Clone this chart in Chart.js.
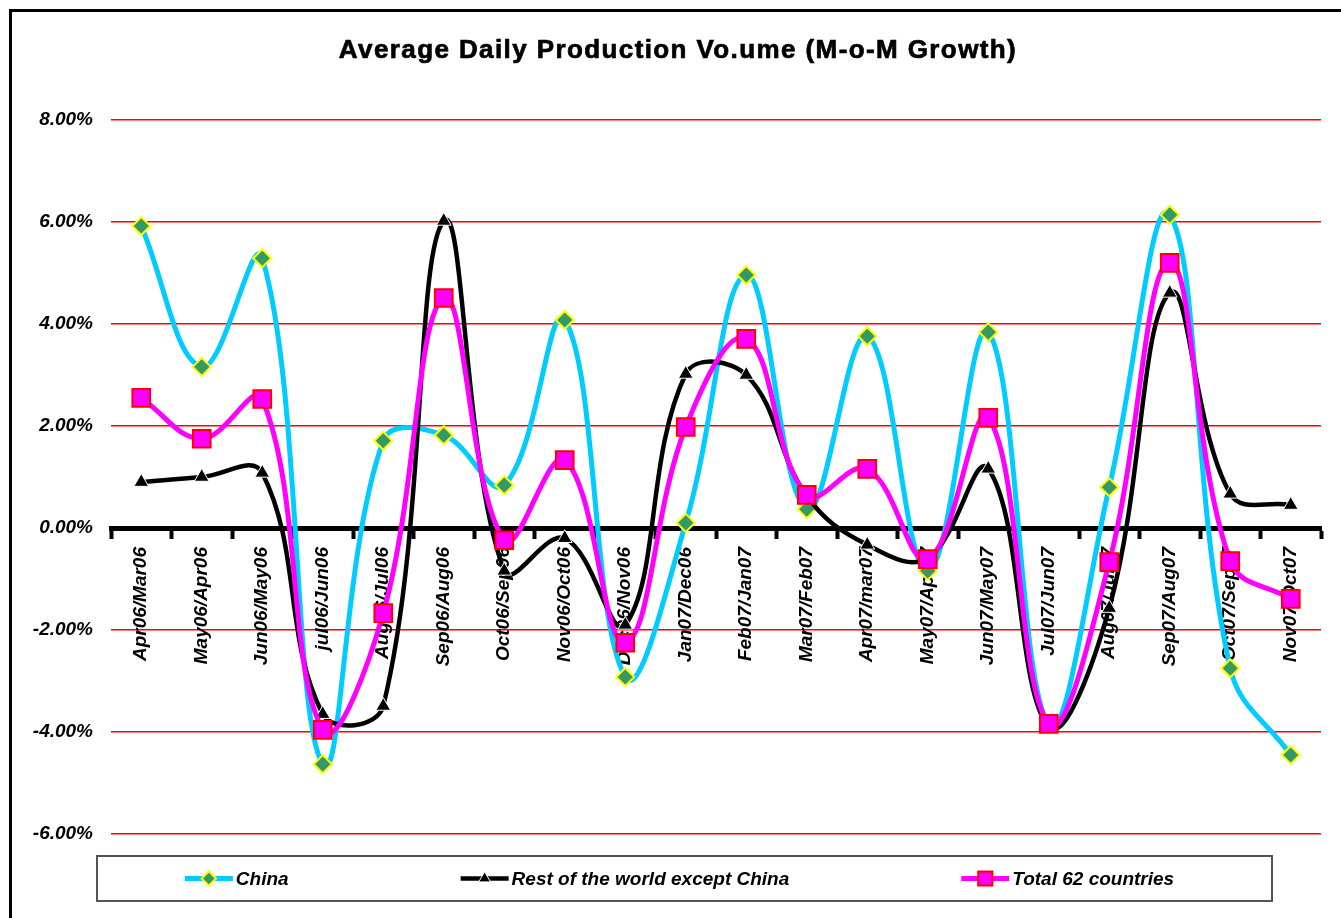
<!DOCTYPE html>
<html>
<head>
<meta charset="utf-8">
<script src="https://cdn.jsdelivr.net/npm/chart.js@4.4.1/dist/chart.umd.min.js"></script>
<style>
  html, body { margin: 0; padding: 0; background: #fff; overflow: hidden; }
  #wrap { width: 1341px; height: 918px; }
</style>
</head>
<body>
<div id="wrap"><canvas id="myChart" width="1341" height="918"></canvas></div>
<script>
const FONT = '"Liberation Sans", Arial, sans-serif';
const TITLE = 'Average Daily Production Vo.ume (M-o-M Growth)';

const labels = ['Apr06/Mar06', 'May06/Apr06', 'Jun06/May06', 'jul06/Jun06', 'Aug06/Jul06',
  'Sep06/Aug06', 'Oct06/Sep06', 'Nov06/Oct06', 'Dec06/Nov06', 'Jan07/Dec06',
  'Feb07/Jan07', 'Mar07/Feb07', 'Apr07/mar07', 'May07/Apr07', 'Jun07/May07',
  'Jul07/Jun07', 'Aug07/Jul07', 'Sep07/Aug07', 'Oct07/Sep07', 'Nov07/Oct07'];

// M-o-M growth in %
const china = [5.92, 3.16, 5.29, -4.63, 1.71, 1.82, 0.84, 4.08, -2.92, 0.10,
  4.96, 0.37, 3.76, -0.84, 3.84, -3.85, 0.80, 6.14, -2.75, -4.45];
const restOfWorld = [0.90, 1.00, 1.08, -3.65, -3.49, 6.02, -0.84, -0.20, -1.90, 3.02,
  3.00, 0.63, -0.33, -0.59, 1.16, -3.90, -1.57, 4.61, 0.67, 0.45];
const total62 = [2.55, 1.75, 2.53, -3.96, -1.67, 4.51, -0.24, 1.33, -2.25, 1.98,
  3.71, 0.65, 1.16, -0.61, 2.16, -3.84, -0.67, 5.20, -0.65, -1.39];

const yMin = -6, yMax = 8, yStep = 2;

// white background, outer frame and the (wide, heavy) title
const frame = {
  id: 'frame',
  beforeDraw(chart) {
    const ctx = chart.ctx;
    ctx.save();
    ctx.fillStyle = '#fff';
    ctx.fillRect(0, 0, chart.width, chart.height);
    ctx.lineWidth = 3;
    ctx.strokeStyle = '#000';
    ctx.strokeRect(10.5, 10.5, chart.width + 50, chart.height + 50);

    ctx.font = 'bold 26px ' + FONT;
    ctx.letterSpacing = '1.4px';
    ctx.textAlign = 'center';
    ctx.textBaseline = 'middle';
    ctx.fillStyle = '#000';
    ctx.strokeStyle = '#000';
    ctx.lineWidth = 0.7;
    ctx.fillText(TITLE, 678, 51);
    ctx.strokeText(TITLE, 678, 51);
    ctx.restore();
  }
};

// legend with line sample + marker, in a boxed row under the plot
const boxLegend = {
  id: 'boxLegend',
  afterDraw(chart) {
    const ctx = chart.ctx;
    const area = chart.chartArea;
    const left = area.left - 14, right = area.right - 49;
    const top = area.bottom + 22, h = 45;
    ctx.save();
    ctx.lineWidth = 2;
    ctx.strokeStyle = '#555';
    ctx.strokeRect(left, top, right - left, h);

    ctx.font = 'italic bold 19px ' + FONT;
    ctx.textBaseline = 'middle';
    const sample = 48, gap = 172;
    const items = chart.data.datasets;
    let totalW = 0;
    items.forEach((ds, i) => {
      totalW += sample + 3 + ctx.measureText(ds.label).width;
      if (i > 0) totalW += gap;
    });
    let x = (left + right) / 2 - totalW / 2 - 5;
    const y = top + h / 2;
    items.forEach(ds => {
      ctx.strokeStyle = ds.borderColor;
      ctx.lineWidth = ds.borderWidth;
      ctx.beginPath();
      ctx.moveTo(x, y);
      ctx.lineTo(x + sample, y);
      ctx.stroke();
      ctx.fillStyle = ds.pointBackgroundColor;
      ctx.strokeStyle = ds.pointBorderColor;
      ctx.lineWidth = ds.pointBorderWidth;
      Chart.helpers.drawPoint(ctx, {
        pointStyle: ds.pointStyle, radius: ds.pointRadius * 0.8,
        rotation: 0, borderWidth: ds.pointBorderWidth
      }, x + sample / 2, y);
      ctx.fillStyle = '#000';
      ctx.textAlign = 'left';
      ctx.fillText(ds.label, x + sample + 3, y + 1);
      x += sample + 3 + ctx.measureText(ds.label).width + gap;
    });
    ctx.restore();
  }
};

const data = {
  labels: labels,
  datasets: [
    {
      label: 'China',
      data: china,
      borderColor: '#00CCFF',
      borderWidth: 5,
      pointStyle: 'rectRot',
      pointRadius: 9,
      pointBackgroundColor: '#339966',
      pointBorderColor: '#FFFF00',
      pointBorderWidth: 2,
      tension: 0.4,
      order: 3
    },
    {
      label: 'Rest of the world except China',
      data: restOfWorld,
      borderColor: '#000000',
      borderWidth: 4.5,
      pointStyle: 'triangle',
      pointRadius: 8.5,
      pointBackgroundColor: '#000000',
      pointBorderColor: '#FFFFFF',
      pointBorderWidth: 1,
      tension: 0.4,
      order: 2
    },
    {
      label: 'Total 62 countries',
      data: total62,
      borderColor: '#FF00FF',
      borderWidth: 5,
      pointStyle: 'rect',
      pointRadius: 12.5,
      pointBackgroundColor: '#FF00FF',
      pointBorderColor: '#FF0000',
      pointBorderWidth: 2,
      tension: 0.4,
      order: 1
    }
  ]
};

const tickFont = { family: FONT, size: 19, weight: 'bold', style: 'italic' };

const config = {
  type: 'line',
  data: data,
  options: {
    responsive: false,
    animation: false,
    layout: { padding: { left: 0, right: 20, top: 120, bottom: 84 } },
    plugins: {
      legend: { display: false },
      tooltip: { enabled: false },
      title: { display: false }
    },
    scales: {
      x: {
        position: { y: 0 },
        offset: true,
        grid: {
          display: true,
          offset: true,
          drawOnChartArea: false,
          drawTicks: true,
          tickLength: 8,
          tickWidth: 4,
          tickColor: '#000'
        },
        border: { display: true, color: '#000', width: 5 },
        ticks: {
          autoSkip: false,
          minRotation: 90,
          maxRotation: 90,
          padding: 11,
          color: '#000',
          font: tickFont
        }
      },
      y: {
        min: yMin,
        max: yMax,
        border: { display: false },
        grid: {
          drawTicks: false,
          color: c => (c.tick && c.tick.value === 0) ? '#000' : '#FF0000',
          lineWidth: c => (c.tick && c.tick.value === 0) ? 5 : 1.5
        },
        ticks: {
          stepSize: yStep,
          padding: 18,
          color: '#000',
          font: tickFont,
          callback: v => v.toFixed(2) + '%'
        },
        afterFit(scale) { scale.width = 111; }
      }
    }
  },
  plugins: [frame, boxLegend]
};

const myChart = new Chart(document.getElementById('myChart').getContext('2d'), config);
</script>
</body>
</html>
